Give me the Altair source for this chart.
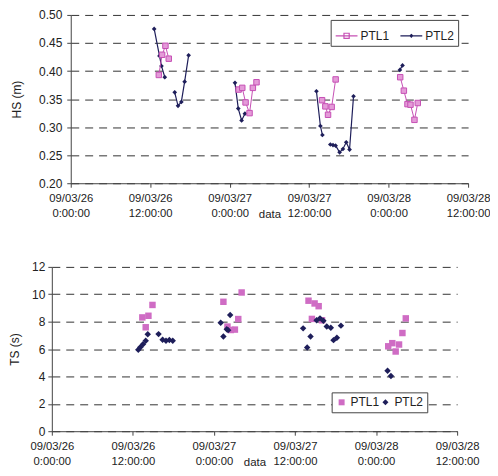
import altair as alt
import pandas as pd

BASE = pd.Timestamp("2009-03-26 00:00:00")

# ---------------- HS panel (hours after 09/03/26 0:00) ----------------
hs_ptl1_hours = [13.3, 13.8, 14.3, 14.8,
                 25.35, 25.9, 26.4, 27.0, 27.5, 28.05,
                 37.95, 38.45, 38.85, 39.4, 40.0,
                 49.75, 50.3, 50.85, 51.3, 51.9, 52.4]
hs_ptl1 = [0.393, 0.429, 0.445, 0.422,
           0.367, 0.370, 0.344, 0.325, 0.370, 0.380,
           0.348, 0.337, 0.322, 0.336, 0.385,
           0.389, 0.365, 0.341, 0.340, 0.313, 0.343]
hs_ptl1_seg = [1, 1, 1, 1, 2, 2, 2, 2, 2, 2, 3, 3, 3, 3, 3, 4, 4, 4, 4, 4, 4]

hs_ptl2_hours = [12.6, 13.4, 13.7, 14.2,
                 15.7, 16.2, 16.7, 17.2, 17.8,
                 24.8, 25.3, 25.8, 26.3,
                 37.1, 37.7, 38.0,
                 39.2, 39.6, 40.0, 40.6, 41.1, 41.6, 42.1, 42.7,
                 49.7, 50.1]
hs_ptl2 = [0.475, 0.427, 0.409, 0.389,
           0.362, 0.338, 0.345, 0.381, 0.428,
           0.379, 0.333, 0.312, 0.324,
           0.364, 0.302, 0.286,
           0.269, 0.268, 0.267, 0.255, 0.261, 0.273, 0.260, 0.355,
           0.402, 0.410]
hs_ptl2_seg = [1] * 4 + [2] * 5 + [3] * 4 + [4] * 3 + [5] * 8 + [6] * 2

# ---------------- TS panel ----------------
ts_ptl1_hours = [13.4, 13.9, 14.3, 14.9,
                 25.4, 26.0, 26.5, 27.1, 27.6, 28.1,
                 38.0, 38.5, 38.9, 39.5, 40.0,
                 49.8, 50.4, 50.9, 51.4, 51.9, 52.4]
ts_ptl1 = [8.31, 7.59, 8.43, 9.22,
           9.45, 7.64, 7.39, 7.42, 8.19, 10.13,
           9.53, 8.20, 9.33, 9.13, 8.10,
           6.20, 6.43, 5.82, 6.33, 7.17, 8.24]

ts_ptl2_hours = [12.8, 13.1, 13.5, 13.9, 14.2,
                 15.8, 16.4, 16.9, 17.4, 17.9,
                 25.0, 25.4, 25.9, 26.1, 26.4,
                 37.2, 37.8, 38.3, 39.2, 39.7, 40.2, 40.7, 41.3, 41.7, 42.2, 42.8,
                 49.7, 50.2]
ts_ptl2 = [5.95, 6.13, 6.35, 6.60, 7.08,
           7.09, 6.68, 6.60, 6.66, 6.60,
           7.92, 6.92, 7.45, 7.38, 8.48,
           7.51, 6.11, 6.91, 8.10, 8.24, 8.07, 7.64, 7.56, 6.65, 6.83, 7.71,
           4.42, 4.03]

series_names = ["PTL1", "PTL2"]
hs_ticks = [0.20, 0.25, 0.30, 0.35, 0.40, 0.45, 0.50]
ts_ticks = [0, 2, 4, 6, 8, 10, 12]
x_tick_hours = [0, 12, 24, 36, 48, 60]

PINK = "#c650b4"
PINK_FILL = "#e49ad8"
PINK_B = "#cf6cc4"
NAVY = "#1e1e5a"
FONT = "Liberation Sans"

# layout (pixels)
TOP_SHIFT = 19          # top plot starts this far right of the bottom plot
TOP_W, TOP_H = 418, 169
BOT_W, BOT_H = 407, 165


def to_time(hours):
    return [(BASE + pd.Timedelta(hours=h)).strftime("%Y-%m-%dT%H:%M:%S") for h in hours]


df_hs1 = pd.DataFrame({"t": to_time(hs_ptl1_hours), "v": hs_ptl1, "seg": hs_ptl1_seg, "series": "PTL1"})
df_hs2 = pd.DataFrame({"t": to_time(hs_ptl2_hours), "v": hs_ptl2, "seg": hs_ptl2_seg, "series": "PTL2"})
df_hs = pd.concat([df_hs1, df_hs2], ignore_index=True)
df_ts = pd.concat([
    pd.DataFrame({"t": to_time(ts_ptl1_hours), "v": ts_ptl1, "series": "PTL1"}),
    pd.DataFrame({"t": to_time(ts_ptl2_hours), "v": ts_ptl2, "series": "PTL2"}),
], ignore_index=True)

x_values = [alt.DateTime(year=2009, month=3, date=26 + h // 24, hours=h % 24) for h in x_tick_hours]
x_domain = [x_values[0], x_values[-1]]
label_expr = "[timeFormat(datum.value, '%y/%m/%d'), timeFormat(datum.value, '%-H:%M:%S')]"


def x_axis():
    return alt.Axis(values=x_values, labelExpr=label_expr, title="data", grid=False,
                    tickSize=4, labelPadding=5, labelLineHeight=15, labelAngle=0,
                    labelFontSize=11.3,
                    labelFlush=False, labelOverlap=False, labelBound=False,
                    titleY=31, titleBaseline="middle", titleFontSize=11.5)


X_top = alt.X("t:T", scale=alt.Scale(domain=x_domain, range=[TOP_SHIFT, TOP_W]), axis=x_axis())
X_bot = alt.X("t:T", scale=alt.Scale(domain=x_domain), axis=x_axis())

y_hs = alt.Y("v:Q", scale=alt.Scale(domain=[0.2, 0.5], nice=False, zero=False),
             axis=alt.Axis(values=hs_ticks, format=".2f", title="HS (m)", tickSize=4,
                           offset=-TOP_SHIFT,
                           labelPadding=5, titlePadding=15, grid=True,
                           gridDash=[8, 6], gridColor="#333", gridWidth=1))
y_ts = alt.Y("v:Q", scale=alt.Scale(domain=[0, 12], nice=False),
             axis=alt.Axis(values=ts_ticks, title="TS (s)", tickSize=4,
                           labelPadding=3, titlePadding=10, grid=True,
                           gridDash=[8, 6], gridColor="#333", gridWidth=1))

path1 = "M-1,0H1M-0.24,-0.24H0.24V0.24H-0.24Z"
path2 = "M-1,0H1M0,-0.12L0.12,0L0,0.12L-0.12,0Z"

leg_top = alt.Legend(orient="none", legendX=280, legendY=5, direction="horizontal", title=None,
                     strokeColor="#444", fillColor="white", padding=4, labelFontSize=12,
                     symbolSize=480, symbolStrokeWidth=1.2, columnPadding=8, labelOffset=2)

base_hs = alt.Chart(df_hs)
line1 = base_hs.transform_filter("datum.series == 'PTL1'").mark_line(color=PINK, strokeWidth=1).encode(x=X_top, y=y_hs, detail="seg:N")
line2 = base_hs.transform_filter("datum.series == 'PTL2'").mark_line(color=NAVY, strokeWidth=1.2).encode(x=X_top, y=y_hs, detail="seg:N")
pts1 = base_hs.transform_filter("datum.series == 'PTL1'").mark_square(fill=PINK_FILL, stroke=PINK, strokeWidth=1, size=30, opacity=1).encode(x=X_top, y=y_hs)
pts2 = base_hs.transform_filter("datum.series == 'PTL2'").mark_point(shape="diamond", filled=True, color=NAVY, size=22, opacity=1).encode(x=X_top, y=y_hs)
legend_layer = base_hs.transform_filter("false").mark_point(filled=False, strokeWidth=1.2, opacity=1).encode(
    x=X_top, y=y_hs,
    color=alt.Color("series:N", scale=alt.Scale(domain=series_names, range=[PINK, NAVY]), legend=leg_top),
    shape=alt.Shape("series:N", scale=alt.Scale(domain=series_names, range=[path1, path2]), legend=leg_top),
)

top = alt.layer(line2, pts2, line1, pts1, legend_layer).properties(width=TOP_W, height=TOP_H)

leg_bot = alt.Legend(orient="none", legendX=281, legendY=126, direction="horizontal", title=None,
                     strokeColor="#444", fillColor="white", padding=4, labelFontSize=12,
                     symbolSize=36, columnPadding=0, labelOffset=3)

bottom = alt.Chart(df_ts).mark_point(filled=True, size=42, opacity=1).encode(
    x=X_bot, y=y_ts,
    color=alt.Color("series:N", scale=alt.Scale(domain=series_names, range=[PINK_B, NAVY]), legend=leg_bot),
    shape=alt.Shape("series:N", scale=alt.Scale(domain=series_names, range=["square", "diamond"]), legend=leg_bot),
).properties(width=BOT_W, height=BOT_H)

chart = alt.vconcat(top, bottom, spacing=41).resolve_scale(
    color="independent", shape="independent", x="independent", y="independent"
).resolve_legend(color="independent", shape="independent").properties(
    padding={"left": 0, "top": 0, "right": 0, "bottom": 0}
).configure_view(stroke=None).configure_axis(
    labelFont=FONT, titleFont=FONT, labelFontSize=12, titleFontSize=12,
    labelColor="#222", titleColor="#222", domainColor="#444", tickColor="#444",
    titleFontWeight="normal"
).configure_legend(labelFont=FONT, labelColor="#222")

chart.save("out.html", embed_options={"renderer": "svg", "actions": False})
